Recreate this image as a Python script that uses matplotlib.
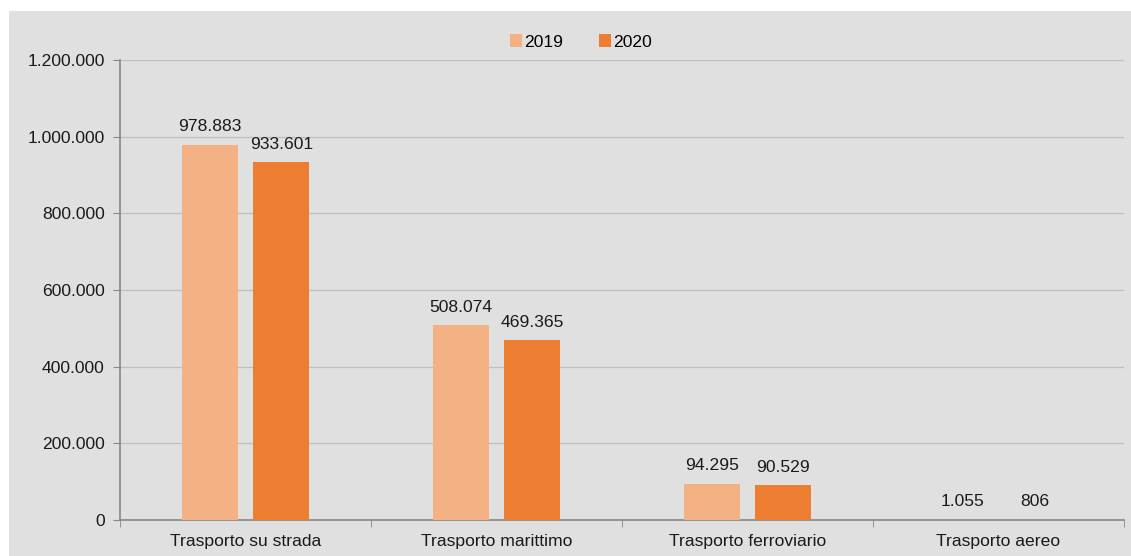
import numpy as np
import matplotlib.pyplot as plt
from matplotlib.patches import Rectangle
from matplotlib.ticker import FuncFormatter

categorie = ['Trasporto su strada', 'Trasporto marittimo', 'Trasporto ferroviario', 'Trasporto aereo']
valori_2019 = [978883, 508074, 94295, 1055]
valori_2020 = [933601, 469365, 90529, 806]
anni = ['2019', '2020']
colori = ['#F4B183', '#ED7D31']

plt.rcParams['font.family'] = ['Liberation Sans', 'DejaVu Sans']
plt.rcParams['font.size'] = 12.6

fig = plt.figure(figsize=(11.31, 5.56), dpi=100)
fig.patch.set_facecolor('white')
# pannello grigio di sfondo
fig.patches.append(Rectangle((9 / 1131, 0), 1, 1 - 11 / 556, transform=fig.transFigure,
                             facecolor='#E0E0E0', edgecolor='none', zorder=-10))

ax = fig.add_axes([120 / 1131, 1 - 520 / 556, (1124 - 120) / 1131, (520 - 60) / 556])
ax.set_facecolor('none')

x = np.arange(len(categorie))
w = 0.223
off = 0.143
b1 = ax.bar(x - off, valori_2019, w, color=colori[0], label=anni[0], zorder=3)
b2 = ax.bar(x + off, valori_2020, w, color=colori[1], label=anni[1], zorder=3)

fmt = lambda v: f'{v:,.0f}'.replace(',', '.')
for bars, vals in [(b1, valori_2019), (b2, valori_2020)]:
    for rect, v in zip(bars, vals):
        ax.annotate(fmt(v), (rect.get_x() + rect.get_width() / 2, v),
                    xytext=(0, 7.5), textcoords='offset points', ha='center', va='bottom',
                    color='#1a1a1a')

ax.set_xlim(-0.5, len(categorie) - 0.5)
ax.set_ylim(0, 1200000)
ax.set_yticks(np.arange(0, 1200001, 200000))
ax.yaxis.set_major_formatter(FuncFormatter(lambda v, p: fmt(v)))
ax.grid(axis='y', color='#BFBFBF', linewidth=0.9, zorder=0)

ax.set_xticks(x)
ax.set_xticklabels(categorie)
ax.set_xticks(np.arange(-0.5, len(categorie)), minor=True)
ax.tick_params(axis='x', which='major', length=0, pad=10)
ax.tick_params(axis='x', which='minor', length=5, color='#868686', direction='out')
ax.tick_params(axis='y', length=5, color='#868686', pad=6, labelcolor='#1a1a1a')
ax.tick_params(axis='x', labelcolor='#1a1a1a')

for s in ['top', 'right']:
    ax.spines[s].set_visible(False)
for s in ['left', 'bottom']:
    ax.spines[s].set_color('#868686')
    ax.spines[s].set_linewidth(1.2)

fig.legend(loc='center', bbox_to_anchor=(581 / 1131, 1 - 42 / 556), ncol=2, frameon=False,
           handlelength=0.7, handleheight=0.7, handletextpad=0.1, columnspacing=2.05,
           borderaxespad=0)

fig.savefig('out.png', dpi=100)
